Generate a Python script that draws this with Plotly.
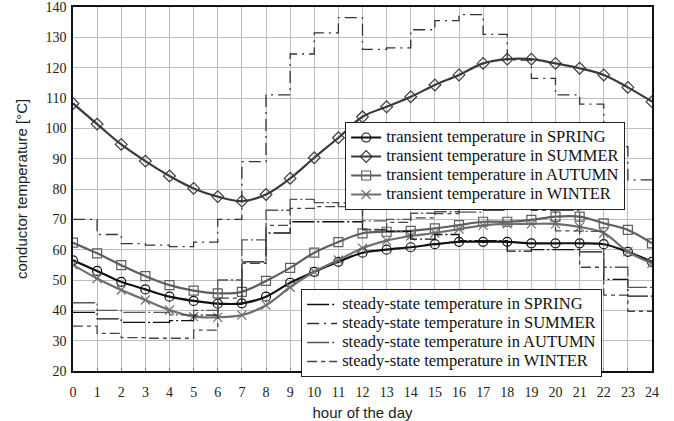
import plotly.graph_objects as go

hours = list(range(25))
x_ticks = list(range(0, 25))
y_ticks = list(range(20, 141, 10))

# transient temperatures (values at each full hour)
tr_spring = [56.5, 53, 49.4, 46.9, 44.5, 43.1, 42.2, 42.3, 44.5, 49.1, 52.7, 56, 59, 60, 60.8,
             61.8, 62.6, 62.6, 62.6, 62.1, 62.1, 62.1, 61.8, 59.3, 56]
tr_summer = [108.2, 101.4, 94.7, 89.2, 84.3, 80.2, 77.5, 76, 78.2, 83.5, 90.3, 96.9, 103.8, 107.1,
             110.4, 114.3, 117.6, 121.4, 122.8, 122.8, 121.4, 119.8, 117.6, 113.5, 108.8]
tr_autumn = [62.3, 58.8, 54.9, 51.3, 48.3, 46.5, 45.6, 46.1, 49.7, 54, 59, 62.5, 65.4, 65.9, 66.2,
             67, 68.1, 69.2, 69.2, 69.8, 70.9, 70.9, 68.7, 66.5, 62.1]
tr_winter = [55, 50.5, 46.7, 43.4, 40.1, 37.9, 37.7, 38.4, 41.7, 47.6, 52.7, 56.6, 60.5, 63, 64.5,
             65.5, 66.8, 68, 68.5, 68.5, 68.5, 67.5, 65.5, 59.3, 55.5]

# steady-state temperatures (hourly steps, last value repeated for hour 24)
ss_spring = [39.3, 37.2, 36, 36, 36.6, 38.4, 42, 56, 65.5, 69.2, 69.2, 69.2, 66.5, 66, 63.5,
             65, 63, 63, 59.5, 60, 60, 59.3, 50.2, 44.7, 44.7]
ss_summer = [70, 65, 62, 61.5, 61, 62.5, 70, 89, 111, 124.5, 131.5, 136.5, 126, 126.5, 132.5,
             135.5, 137.5, 131, 122.5, 116.5, 111, 108, 94, 83, 83]
ss_autumn = [42.5, 40, 39.3, 39.3, 38.5, 40, 50, 63.2, 73, 76.6, 75.5, 74.2, 69.5, 70, 72,
             72.5, 72.4, 73, 73.6, 76.4, 73, 66, 54.2, 47.6, 47.6]
ss_winter = [34.8, 32.4, 31, 30.8, 30.8, 33.5, 44, 55.5, 68, 73.6, 74.2, 75.4, 66.7, 69, 70.5,
             71.9, 73.6, 73.6, 75, 73, 66.2, 54.2, 45, 39.7, 39.7]

seasons = ["SPRING", "SUMMER", "AUTUMN", "WINTER"]
transients = [tr_spring, tr_summer, tr_autumn, tr_winter]
steadies = [ss_spring, ss_summer, ss_autumn, ss_winter]
tr_colors = ["#111111", "#3a3a3a", "#5e5e5e", "#6e6e6e"]
tr_symbols = ["circle-open", "diamond-open", "square-open", "x-thin-open"]
ss_colors = ["#111111", "#333333", "#555555", "#444444"]
ss_dashes = ["22px,3px,2px,3px", "12px,5px,2px,5px", "22px,3px,2px,3px", "10px,4px,4px,4px"]


def big(text):
    return "<span style='font-size:16.5px'>" + text + "</span>"


fig = go.Figure()
for s, vals, c, sym in zip(seasons, transients, tr_colors, tr_symbols):
    fig.add_trace(go.Scatter(
        x=hours, y=vals, mode="lines+markers", name=big("transient temperature in " + s),
        line=dict(color=c, width=2.2, shape="spline"),
        marker=dict(symbol=sym, size=9, color=c, line=dict(width=1.2, color=c)),
        legend="legend"))
for s, vals, c, d in zip(seasons, steadies, ss_colors, ss_dashes):
    fig.add_trace(go.Scatter(
        x=hours, y=vals, mode="lines", name=big("steady-state temperature in " + s),
        line=dict(color=c, width=1.3, shape="hv", dash=d),
        legend="legend2"))

serif = "Liberation Serif"
sans = "Liberation Sans"

fig.update_layout(
    width=674, height=421,
    margin=dict(l=73, r=22, t=7, b=50, autoexpand=False),
    paper_bgcolor="white", plot_bgcolor="white",
    legend=dict(x=0.47, y=0.684, xanchor="left", yanchor="top",
                bgcolor="white", bordercolor="#222", borderwidth=1,
                font=dict(family=serif, size=11, color="#111"),
                tracegroupgap=0, itemwidth=30),
    legend2=dict(x=0.394, y=0.2253, xanchor="left", yanchor="top",
                 bgcolor="white", bordercolor="#222", borderwidth=1,
                 font=dict(family=serif, size=11, color="#111"),
                 tracegroupgap=0, itemwidth=30),
    xaxis=dict(range=[0, 24], tickvals=x_ticks, ticktext=[str(v) for v in x_ticks],
               automargin=False, ticklabeloverflow="allow", ticklabelstandoff=7,
               showgrid=True, gridcolor="#bdbdbd", gridwidth=1,
               showline=True, linecolor="#111", linewidth=1.5, mirror=True,
               ticks="inside", ticklen=3, tickcolor="#888",
               tickfont=dict(family=serif, size=14, color="#222"),
               title=dict(text="hour of the day", font=dict(family=sans, size=15, color="#222"),
                          standoff=10),
               zeroline=False),
    yaxis=dict(range=[20, 140], tickvals=y_ticks, ticktext=[str(v) for v in y_ticks],
               automargin=False, ticklabeloverflow="allow", ticklabelstandoff=2,
               showgrid=True, gridcolor="#bdbdbd", gridwidth=1,
               showline=True, linecolor="#111", linewidth=1.5, mirror=True,
               ticks="", tickfont=dict(family=serif, size=14, color="#222"),
               title=dict(text="conductor temperature [°C]",
                          font=dict(family=sans, size=15, color="#222"), standoff=14),
               zeroline=False),
)

fig.write_html("out.html", config={"displayModeBar": False},
               post_script="document.body.style.margin='0';")
